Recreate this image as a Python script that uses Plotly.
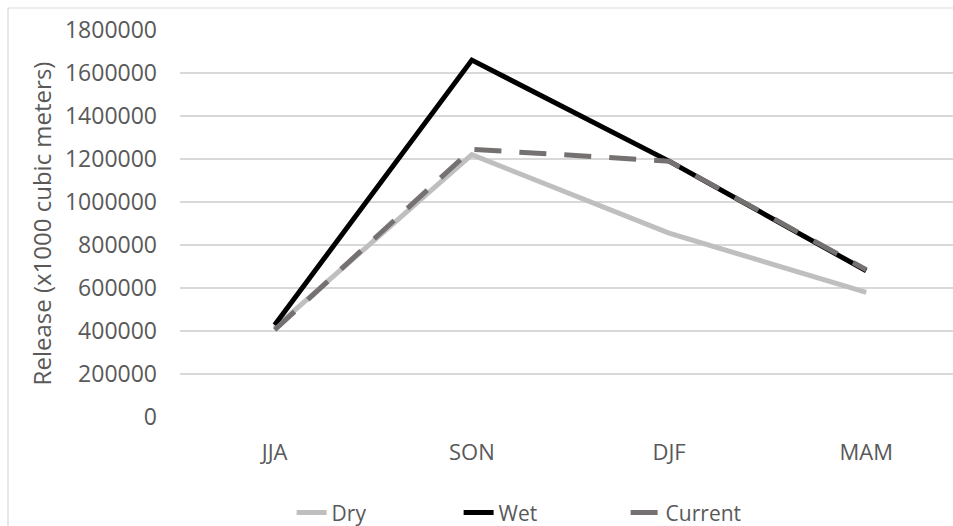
import plotly.graph_objects as go

categories = ["JJA", "SON", "DJF", "MAM"]
dry = [415000, 1220000, 855000, 580000]
wet = [428000, 1660000, 1190000, 680000]
current = [405000, 1245000, 1190000, 685000]
y_ticks = [0, 200000, 400000, 600000, 800000, 1000000, 1200000, 1400000, 1600000, 1800000]

FONT = "Open Sans"
GRAY = "#595959"

fig = go.Figure()
fig.add_trace(go.Scatter(x=categories, y=dry, name="Dry", mode="lines",
                         line=dict(color="#bfbfbf", width=5)))
fig.add_trace(go.Scatter(x=categories, y=wet, name="Wet", mode="lines",
                         line=dict(color="#000000", width=5)))
fig.add_trace(go.Scatter(x=categories, y=current, name="Current", mode="lines",
                         line=dict(color="#767171", width=5, dash="27px,18px")))

fig.update_layout(
    width=953, height=526,
    margin=dict(l=180, r=0, t=30, b=109),
    paper_bgcolor="white", plot_bgcolor="white",
    font=dict(family=FONT, color=GRAY, size=21),
    showlegend=True,
    legend=dict(orientation="h", xref="container", x=0.306, xanchor="left",
                yref="container", y=0.025, yanchor="middle",
                font=dict(size=21, color=GRAY),
                entrywidth=122, entrywidthmode="pixels"),
    shapes=[dict(type="rect", xref="paper", yref="paper",
                 x0=-0.2225, x1=1.05, y0=-0.3, y1=1.0568,
                 line=dict(color="#d9d9d9", width=1.2), fillcolor="rgba(0,0,0,0)",
                 layer="below")],
)
fig.update_xaxes(type="category", range=[-0.48, 3.44], showgrid=False,
                 showline=False, zeroline=False, ticks="",
                 tickfont=dict(size=22, color=GRAY), ticklabelstandoff=20)
fig.update_yaxes(range=[0, 1800000], tickvals=y_ticks,
                 ticktext=[str(v) for v in y_ticks],
                 showgrid=True, gridcolor="#d9d9d9", gridwidth=1.5,
                 zeroline=False, showline=False, ticks="",
                 tickfont=dict(size=23, color=GRAY), ticklabelstandoff=22,
                 title=dict(text="Release (x1000 cubic meters)",
                            font=dict(size=24, color=GRAY), standoff=6))

fig.write_html("out.html", config={"displayModeBar": False},
               post_script="document.body.style.margin='0';document.body.style.overflow='hidden';")
